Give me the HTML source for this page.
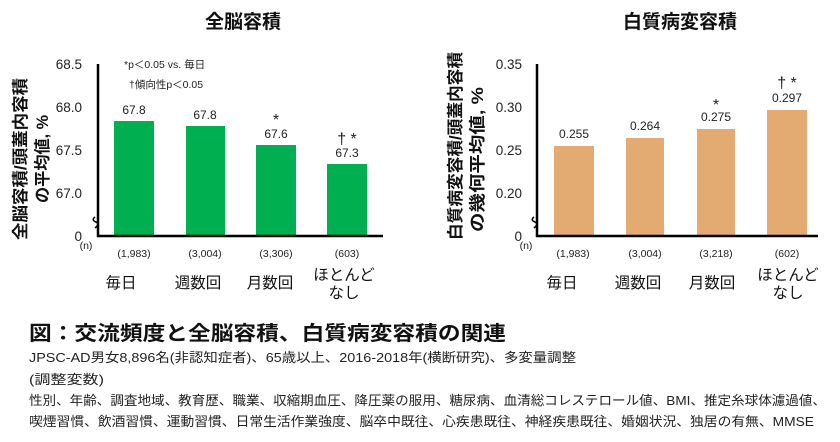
<!DOCTYPE html>
<html><head><meta charset="utf-8"><style>
html,body{margin:0;padding:0;background:#fff;}
svg{display:block;font-family:"Liberation Sans","Noto Sans CJK JP",sans-serif;}
.b{font-weight:bold;}
</style></head><body>
<svg width="840" height="442" viewBox="0 0 840 442" xmlns="http://www.w3.org/2000/svg">
<rect width="840" height="442" fill="#fff"/>
<!-- Left chart -->
<text x="243" y="28" font-size="19" class="b" text-anchor="middle" fill="#111">全脳容積</text>
<g font-size="13.5" fill="#222" text-anchor="end">
<text x="82" y="69">68.5</text><text x="82" y="112">68.0</text><text x="82" y="155">67.5</text><text x="82" y="198">67.0</text><text x="82" y="241">0</text>
</g>
<text x="124" y="68" font-size="10.5" fill="#222">*p＜0.05  vs. 毎日</text>
<text x="129" y="88" font-size="10.5" fill="#222">†傾向性p＜0.05</text>
<g fill="#00B050">
<rect x="114" y="121" width="40" height="115"/>
<rect x="186" y="126" width="39" height="110"/>
<rect x="256" y="145" width="40" height="91"/>
<rect x="327" y="164" width="40" height="72"/>
</g>
<path d="M98 64V237M97 236H383" stroke="#000" stroke-width="2.5" fill="none"/>
<path d="M95 217q-4 3 1 5q4 2 -1 6" stroke="#000" stroke-width="1.5" fill="none"/>
<g font-size="12" fill="#222" text-anchor="middle">
<text x="134" y="114">67.8</text><text x="205" y="119">67.8</text><text x="276" y="138">67.6</text><text x="347" y="157">67.3</text>
<text x="276" y="125" font-size="16">*</text><text x="347" y="144" font-size="16">† *</text>
</g>
<g font-size="10.5" fill="#222" text-anchor="middle">
<text x="86" y="249">(n)</text>
<text x="134" y="257">(1,983)</text><text x="205" y="257">(3,004)</text><text x="276" y="257">(3,306)</text><text x="347" y="257">(603)</text>
</g>
<g font-size="15.5" fill="#111" text-anchor="middle">
<text x="121" y="288">毎日</text><text x="198" y="288">週数回</text><text x="270" y="288">月数回</text><text x="344" y="280">ほとんど</text><text x="344" y="298">なし</text>
</g>
<text transform="translate(26,240) rotate(-90)" font-size="16.5" class="b" fill="#111" textLength="162" lengthAdjust="spacingAndGlyphs">全脳容積/頭蓋内容積</text>
<text transform="translate(48,203) rotate(-90)" font-size="16.5" class="b" fill="#111" textLength="88" lengthAdjust="spacingAndGlyphs">の平均値, %</text>

<!-- Right chart -->
<text x="680" y="28" font-size="19" class="b" text-anchor="middle" fill="#111">白質病変容積</text>
<g font-size="13.5" fill="#222" text-anchor="end">
<text x="522" y="69">0.35</text><text x="522" y="112">0.30</text><text x="522" y="155">0.25</text><text x="522" y="198">0.20</text><text x="522" y="241">0</text>
</g>
<g fill="#E3AA72">
<rect x="554" y="146" width="40" height="90"/>
<rect x="626" y="138" width="38" height="98"/>
<rect x="697" y="129" width="38" height="107"/>
<rect x="767" y="110" width="40" height="126"/>
</g>
<path d="M537 64V237M536 236H818" stroke="#000" stroke-width="2.5" fill="none"/>
<path d="M534 217q-4 3 1 5q4 2 -1 6" stroke="#000" stroke-width="1.5" fill="none"/>
<g font-size="12" fill="#222" text-anchor="middle">
<text x="574" y="138">0.255</text><text x="645" y="130">0.264</text><text x="716" y="121">0.275</text><text x="787" y="102">0.297</text>
<text x="716" y="110" font-size="16">*</text><text x="787" y="88" font-size="16">† *</text>
</g>
<g font-size="10.5" fill="#222" text-anchor="middle">
<text x="526" y="249">(n)</text>
<text x="573" y="257">(1,983)</text><text x="645" y="257">(3,004)</text><text x="716" y="257">(3,218)</text><text x="787" y="257">(602)</text>
</g>
<g font-size="15.5" fill="#111" text-anchor="middle">
<text x="562" y="288">毎日</text><text x="638" y="288">週数回</text><text x="712" y="288">月数回</text><text x="788" y="280">ほとんど</text><text x="788" y="298">なし</text>
</g>
<text transform="translate(461,240) rotate(-90)" font-size="16.5" class="b" fill="#111" textLength="188" lengthAdjust="spacingAndGlyphs">白質病変容積/頭蓋内容積</text>
<text transform="translate(483,232) rotate(-90)" font-size="16.5" class="b" fill="#111" textLength="145" lengthAdjust="spacingAndGlyphs">の幾何平均値, %</text>

<!-- Caption -->
<text x="29" y="340" font-size="20" class="b" fill="#111" textLength="477" lengthAdjust="spacingAndGlyphs">図：交流頻度と全脳容積、白質病変容積の関連</text>
<g font-size="13" fill="#222">
<text x="29" y="362" textLength="547" lengthAdjust="spacingAndGlyphs">JPSC-AD男女8,896名(非認知症者)、65歳以上、2016-2018年(横断研究)、多変量調整</text>
<text x="29" y="384" textLength="75" lengthAdjust="spacingAndGlyphs">(調整変数)</text>
<text x="29" y="405" textLength="797" lengthAdjust="spacingAndGlyphs">性別、年齢、調査地域、教育歴、職業、収縮期血圧、降圧薬の服用、糖尿病、血清総コレステロール値、BMI、推定糸球体濾過値、</text>
<text x="29" y="426" textLength="785" lengthAdjust="spacingAndGlyphs">喫煙習慣、飲酒習慣、運動習慣、日常生活作業強度、脳卒中既往、心疾患既往、神経疾患既往、婚姻状況、独居の有無、MMSE</text>
</g>
</svg>
</body></html>
